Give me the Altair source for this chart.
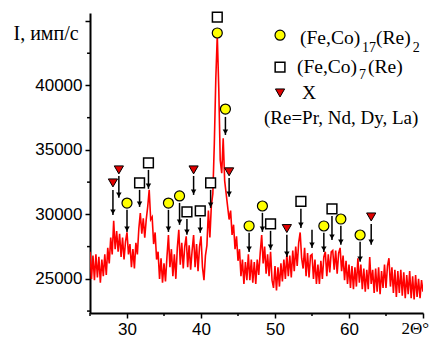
import altair as alt
import numpy as np
import pandas as pd

# 2-theta grid (0.2 deg step) and intensities
two_theta = np.round(np.arange(25.0, 70.01, 0.2), 1)
intensity = [
    27100, 25000, 26800, 24900, 26900,   # 25
    25100, 26700, 24700, 26500, 25200,   # 26
    26900, 25300, 27400, 26200, 28200,   # 27
    26900, 29500, 27300, 28700, 27100,   # 28
    28500, 26700, 28200, 26500, 27900,   # 29
    28600, 26900, 27700, 25900, 27300,   # 30
    25800, 27800, 26900, 28900, 30100,   # 31
    28500, 29700, 28200, 29600, 30600,   # 32
    31900, 29600, 29800, 27700, 28600,   # 33
    26500, 27100, 25000, 26600, 24700,   # 34
    26200, 24800, 26700, 28400, 25900,   # 35
    27300, 25200, 26900, 25000, 27400,   # 36
    28800, 26100, 27800, 25800, 27500,   # 37
    28300, 25900, 27600, 25700, 27200,   # 38
    28400, 25900, 27700, 25600, 27500,   # 39
    28300, 25900, 24900, 26800, 27600,   # 40
    30300, 28200, 30700, 31600, 35500,   # 41
    40500, 43900, 39800, 34200, 33200,   # 42
    35900, 32600, 31600, 30600, 29600,   # 43
    30300, 28400, 29200, 27300, 28300,   # 44
    26400, 27300, 25200, 26500, 24600,   # 45
    26300, 24900, 26900, 24900, 26500,   # 46
    24700, 26300, 24600, 26500, 25300,   # 47
    27000, 28400, 26200, 27500, 25400,   # 48
    26900, 25200, 27100, 24900, 24300,   # 49
    26000, 24100, 25900, 24400, 26200,   # 50
    24800, 26500, 25000, 26900, 25200,   # 51
    26800, 25100, 27200, 25600, 27500,   # 52
    26000, 27800, 28600, 26600, 25800,   # 53
    27400, 25200, 27000, 25100, 26800,   # 54
    26900, 25000, 26500, 24600, 26100,   # 55
    24600, 26400, 25000, 26700, 27100,   # 56
    25200, 26900, 25500, 27100, 27200,   # 57
    25700, 27200, 25400, 27000, 27400,   # 58
    25600, 26800, 24900, 26400, 24600,   # 59
    26100, 24300, 26000, 24200, 25900,   # 60
    24400, 26600, 24700, 26100, 24200,   # 61
    25800, 24000, 25700, 24200, 26700,   # 62
    24600, 25700, 23900, 25800, 24000,   # 63
    25900, 23800, 25600, 24300, 26100,   # 64
    24300, 26000, 26600, 24400, 25900,   # 65
    23900, 25700, 23600, 25600, 23900,   # 66
    25700, 23700, 25500, 23500, 25300,   # 67
    23800, 25600, 23500, 25200, 23400,   # 68
    25300, 23600, 25000, 23500, 24900,   # 69
    24000,                               # 70
]

# phase markers
fe17_x = [30.0, 35.6, 37.1, 42.2, 43.3, 46.5, 48.3, 56.6, 58.9, 61.5]
fe17_y = [30880, 30880, 31430, 44070, 38170, 29100, 30650, 29100, 29640, 28400]
fe7_x = [31.7, 32.9, 38.1, 39.9, 41.3, 42.2, 49.4, 53.5, 57.7]
fe7_y = [32440, 34000, 30200, 30270, 32440, 45300, 29260, 31000, 30420]
xph_x = [28.1, 28.9, 39.0, 43.8, 51.6, 63.0]
xph_y = [32440, 33450, 33450, 33300, 28900, 29800]

# arrows pointing at peaks
arrow_x = [28.1, 28.9, 30.0, 31.7, 32.9, 35.6, 37.1, 38.1, 39.0, 39.9, 41.3, 43.3,
           43.8, 46.5, 48.3, 49.4, 51.6, 53.5, 55.0, 56.6, 57.7, 58.9, 61.5, 63.0]
arrow_top = [31900, 32980, 30350, 31900, 33450, 30350, 30890, 29650, 32980, 29730, 31900, 37560,
             32830, 28570, 30120, 28720, 28410, 30430, 28800, 28570, 29880, 29110, 27870, 29260]
arrow_bot = [29960, 31280, 28640, 30580, 31980, 28640, 29190, 28410, 31510, 28570, 30500, 36160,
             31360, 27090, 28640, 27250, 26700, 28950, 27400, 27090, 28020, 27640, 26320, 27640]

x_major = [30, 40, 50, 60, 70]
x_minor = [25, 35, 45, 55, 65]
y_major = [25000, 30000, 35000, 40000, 45000]
y_minor = [22500, 27500, 32500, 37500, 42500]

XMIN, XMAX = 25, 70
YMIN, YMAX = 22350, 45620

xs = alt.Scale(domain=[XMIN, XMAX], nice=False, zero=False)
ys = alt.Scale(domain=[YMIN, YMAX], nice=False, zero=False)

spec = pd.DataFrame({"t": two_theta, "i": intensity})

line = alt.Chart(spec).mark_line(color="#ff0000", strokeWidth=1.6, clip=True).encode(
    x=alt.X("t:Q", scale=xs, axis=alt.Axis(
        values=x_major, labelExpr="datum.value == 70 ? '' : datum.label",
        title="2Θ°", titleX=311, titleY=15, titleAlign="left", titleBaseline="middle",
        titleFont="Liberation Serif", titleFontSize=17, titleFontWeight="normal",
        labelFont="Liberation Sans", labelFontSize=17, labelPadding=3,
        tickSize=5, tickWidth=1.5, tickColor="black", domainColor="black", domainWidth=2,
        labelColor="black", titleColor="black", grid=False)),
    y=alt.Y("i:Q", scale=ys, axis=alt.Axis(
        values=y_major, labelExpr="datum.value == 45000 ? '' : datum.label", format="d",
        title="I, имп/с", titleAngle=0, titleX=-77, titleY=20, titleAlign="left",
        titleBaseline="middle", titleFont="Liberation Serif", titleFontSize=20,
        titleFontWeight="normal", labelFont="Liberation Sans", labelFontSize=17,
        labelPadding=3, tickSize=5, tickWidth=1.5, tickColor="black", domainColor="black",
        domainWidth=2, labelColor="black", titleColor="black", grid=False)),
)

xminor = alt.Chart(pd.DataFrame({"v": x_minor})).mark_rule(color="black", strokeWidth=1.5).encode(
    x=alt.X("v:Q", scale=xs), y=alt.datum(YMIN), y2=alt.datum(YMIN - 230))
yminor = alt.Chart(pd.DataFrame({"v": y_minor})).mark_rule(color="black", strokeWidth=1.5).encode(
    y=alt.Y("v:Q", scale=ys), x=alt.datum(XMIN), x2=alt.datum(XMIN - 0.4))

arr = pd.DataFrame({"x": arrow_x, "top": arrow_top, "bot": arrow_bot})
shafts = alt.Chart(arr).mark_rule(color="black", strokeWidth=1.5).encode(
    x=alt.X("x:Q", scale=xs), y=alt.Y("top:Q", scale=ys), y2="bot:Q")
heads = alt.Chart(arr).mark_point(shape="triangle-down", filled=True, color="black",
                                  size=30, yOffset=-3, opacity=1).encode(
    x=alt.X("x:Q", scale=xs), y=alt.Y("bot:Q", scale=ys))

circles = alt.Chart(pd.DataFrame({"x": fe17_x, "y": fe17_y})).mark_point(
    shape="circle", filled=True, fill="#ffff00", stroke="black", strokeWidth=1.2,
    size=100, opacity=1).encode(x=alt.X("x:Q", scale=xs), y=alt.Y("y:Q", scale=ys))
squares = alt.Chart(pd.DataFrame({"x": fe7_x, "y": fe7_y})).mark_point(
    shape="square", filled=True, fill="white", stroke="black", strokeWidth=1.5,
    size=95, opacity=1).encode(x=alt.X("x:Q", scale=xs), y=alt.Y("y:Q", scale=ys))
tris = alt.Chart(pd.DataFrame({"x": xph_x, "y": xph_y})).mark_point(
    shape="triangle-down", filled=True, fill="#e00000", stroke="black", strokeWidth=1,
    size=85, opacity=1).encode(x=alt.X("x:Q", scale=xs), y=alt.Y("y:Q", scale=ys))

# legend (drawn inside the plot, as in the original)
leg_sym = pd.DataFrame({"x": [50.68, 50.68, 50.68], "y": [43900, 41430, 39420],
                        "k": ["c", "s", "t"]})
leg_c = alt.Chart(leg_sym[leg_sym.k == "c"]).mark_point(
    shape="circle", filled=True, fill="#ffff00", stroke="black", strokeWidth=1.2,
    size=100, opacity=1).encode(x=alt.X("x:Q", scale=xs), y=alt.Y("y:Q", scale=ys))
leg_s = alt.Chart(leg_sym[leg_sym.k == "s"]).mark_point(
    shape="square", filled=True, fill="white", stroke="black", strokeWidth=1.5,
    size=95, opacity=1).encode(x=alt.X("x:Q", scale=xs), y=alt.Y("y:Q", scale=ys))
leg_t = alt.Chart(leg_sym[leg_sym.k == "t"]).mark_point(
    shape="triangle-down", filled=True, fill="#e00000", stroke="black", strokeWidth=1,
    size=85, opacity=1).encode(x=alt.X("x:Q", scale=xs), y=alt.Y("y:Q", scale=ys))

leg_text = pd.DataFrame({
    "x": [53.38, 63.65, 52.97, 62.57, 53.65],
    "y": [43680, 43680, 41430, 41430, 39420],
    "s": ["(Fe,Co)", "(Re)", "(Fe,Co)", "(Re)", "X"],
})
leg_note = pd.DataFrame({"x": [48.51], "y": [37480], "s": ["(Re=Pr, Nd, Dy, La)"]})
leg_sub = pd.DataFrame({
    "x": [61.76, 68.6, 61.35],
    "y": [42900, 42900, 40810],
    "s": ["17", "2", "7"],
})
txt = alt.Chart(leg_text).mark_text(align="left", baseline="middle", font="Liberation Serif",
                                    fontSize=19.5, color="black").encode(
    x=alt.X("x:Q", scale=xs), y=alt.Y("y:Q", scale=ys), text="s:N")
note = alt.Chart(leg_note).mark_text(align="left", baseline="middle", font="Liberation Serif",
                                     fontSize=19, color="black").encode(
    x=alt.X("x:Q", scale=xs), y=alt.Y("y:Q", scale=ys), text="s:N")
sub = alt.Chart(leg_sub).mark_text(align="left", baseline="middle", font="Liberation Serif",
                                   fontSize=14, color="black").encode(
    x=alt.X("x:Q", scale=xs), y=alt.Y("y:Q", scale=ys), text="s:N")

chart = alt.layer(line, xminor, yminor, shafts, heads, circles, squares, tris,
                  leg_c, leg_s, leg_t, txt, note, sub).properties(
    width=333, height=300,
    autosize=alt.AutoSizeParams(type="none"),
    padding={"left": 82, "top": 5, "right": 6, "bottom": 25},
    background="white",
).configure_view(stroke=None)

chart.save("out.html", embed_options={"renderer": "svg", "actions": False})
